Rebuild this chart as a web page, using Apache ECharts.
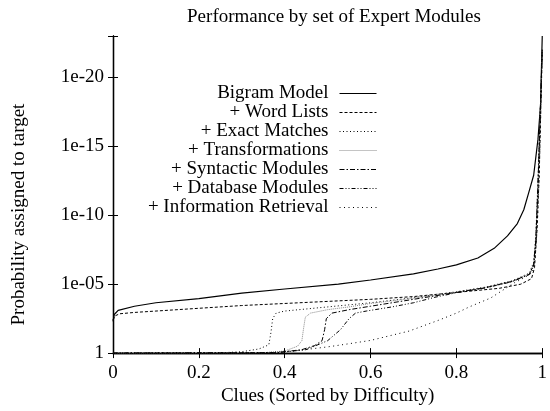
<!DOCTYPE html>
<html><head><meta charset="utf-8">
<script src="https://cdn.jsdelivr.net/npm/echarts@6/dist/echarts.min.js"></script>
<style>html,body{margin:0;padding:0;background:#fff}#c{width:550px;height:411px}</style>
</head><body><div id="c"></div><script>
const FONT = '"Liberation Serif", "Times New Roman", serif';
const titleText = 'Performance by set of Expert Modules';
const xName = 'Clues (Sorted by Difficulty)';
const yName = 'Probability assigned to target';
const xTicks = [0, 0.2, 0.4, 0.6, 0.8, 1];
const yTickLabels = { 0: '1', 5: '1e-05', 10: '1e-10', 15: '1e-15', 20: '1e-20' };
const seriesNames = ['Bigram Model', '+ Word Lists', '+ Exact Matches', '+ Transformations',
  '+ Syntactic Modules', '+ Database Modules', '+ Information Retrieval'];

// y = -log10(probability); x = fraction of clues
const bigram = [[0,2.3],[0.003,2.8],[0.012,3.1],[0.05,3.4],[0.1,3.65],[0.2,3.95],[0.25,4.15],[0.3,4.35],
  [0.4,4.65],[0.525,5.0],[0.6,5.3],[0.7,5.75],[0.757,6.1],[0.8,6.4],[0.85,6.9],[0.888,7.6],[0.919,8.5],
  [0.942,9.4],[0.957,10.4],[0.969,11.7],[0.98,12.9],[0.99,15.5],[0.996,18],[1.0,23]];
const wordLists = [[0,2.4],[0.005,2.7],[0.015,2.85],[0.05,2.95],[0.1,3.05],[0.2,3.25],[0.3,3.45],[0.4,3.6],
  [0.5,3.75],[0.6,3.9],[0.7,4.1],[0.8,4.4],[0.9,4.7],[0.95,5.0],[0.975,5.4],[0.982,6.2],[0.988,9],
  [0.993,13],[1.0,22]];
const exactMatches = [[0,0],[0.25,0.02],[0.3,0.1],[0.34,0.3],[0.363,0.6],[0.368,1.5],[0.372,2.5],[0.38,2.9],
  [0.4,3.05],[0.45,3.2],[0.5,3.35],[0.6,3.65],[0.7,4.02],[0.8,4.45],[0.87,4.8],[0.93,5.25],[0.97,5.8],
  [0.98,6.6],[0.985,8.5],[0.99,12.5],[1.0,22]];
const transformations = [[0,0],[0.35,0.03],[0.4,0.15],[0.43,0.5],[0.44,0.9],[0.444,1.8],[0.448,2.6],
  [0.46,2.9],[0.5,3.15],[0.55,3.35],[0.6,3.6],[0.7,3.98],[0.8,4.42],[0.87,4.78],[0.93,5.22],[0.97,5.75],
  [0.98,6.5],[0.985,8.3],[0.99,12.3],[1.0,22]];
const syntactic = [[0,0],[0.38,0.03],[0.44,0.25],[0.47,0.55],[0.487,0.9],[0.493,1.7],[0.497,2.5],[0.51,2.9],
  [0.55,3.15],[0.6,3.4],[0.7,3.9],[0.8,4.4],[0.87,4.76],[0.93,5.2],[0.97,5.72],[0.98,6.4],[0.985,8.2],
  [0.99,12.2],[1.0,22]];
const database = [[0,0],[0.38,0.02],[0.45,0.25],[0.5,0.9],[0.53,1.7],[0.55,2.5],[0.565,2.9],[0.59,3.05],
  [0.65,3.35],[0.7,3.65],[0.75,4.05],[0.8,4.38],[0.87,4.74],[0.93,5.18],[0.97,5.7],[0.98,6.3],[0.985,8],
  [0.99,12],[1.0,22]];
const infoRetrieval = [[0,0],[0.35,0.02],[0.42,0.15],[0.5,0.45],[0.55,0.68],[0.6,0.92],[0.69,1.6],[0.76,2.4],
  [0.8,2.9],[0.83,3.35],[0.88,4.0],[0.915,4.7],[0.935,5.1],[0.96,5.5],[0.977,5.85],[0.983,6.8],[0.988,9],
  [0.993,13],[1.0,22]];

const seriesData = [bigram, wordLists, exactMatches, transformations, syntactic, database, infoRetrieval];
const styles = [
  { color: '#000', type: 'solid', width: 1.2 },
  { color: '#000', type: [3, 2], width: 1 },
  { color: '#000', type: [1, 2.5], width: 1 },
  { color: '#888', type: [1, 1], width: 1 },
  { color: '#000', type: [5, 2, 1.5, 2], width: 1 },
  { color: '#000', type: [4, 2, 1, 2, 1, 2], width: 1 },
  { color: '#000', type: [1, 3.5], width: 1 }
];

const FS = 19;
const chart = echarts.init(document.getElementById('c'), null, { renderer: 'canvas' });
const axisCommon = { lineStyle: { color: '#000', width: 1.3 } };
chart.setOption({
  animation: false,
  backgroundColor: '#fff',
  title: {
    text: titleText, left: 329, top: 3, textAlign: 'center',
    textStyle: { fontFamily: FONT, fontSize: FS, fontWeight: 'normal', color: '#000' }
  },
  legend: {
    orient: 'vertical', align: 'right', right: 173, top: 84, padding: 0,
    itemWidth: 37, itemHeight: 14, itemGap: 0,
    itemStyle: { opacity: 0 },
    lineStyle: { width: 1 },
    data: seriesNames,
    textStyle: { fontFamily: FONT, fontSize: FS, color: '#000', padding: [0, 6, 0, 0] }
  },
  grid: { left: 113, right: 5, top: 36, bottom: 48, containLabel: false },
  xAxis: [{
    type: 'value', min: 0, max: 1, interval: 0.2,
    name: xName, nameLocation: 'middle', nameGap: 30,
    nameTextStyle: { fontFamily: FONT, fontSize: FS, color: '#000' },
    axisLine: axisCommon, splitLine: { show: false },
    axisTick: { inside: true, length: 5, lineStyle: { color: '#000' } },
    axisLabel: { fontFamily: FONT, fontSize: FS, color: '#000', margin: 10,
      formatter: v => xTicks.some(t => Math.abs(t - v) < 1e-9) ? String(+v.toFixed(1)) : '' }
  }, {
    type: 'value', position: 'top', min: 0, max: 1, interval: 0.2,
    axisLine: axisCommon, splitLine: { show: false },
    axisTick: { inside: true, length: 5, lineStyle: { color: '#000' } },
    axisLabel: { show: false }
  }],
  yAxis: [{
    type: 'value', min: 0, max: 23, interval: 5,
    name: yName, nameLocation: 'middle', nameGap: 84, nameRotate: 90,
    nameTextStyle: { fontFamily: FONT, fontSize: FS, color: '#000', padding: [0, 40, 0, 0] },
    axisLine: axisCommon, splitLine: { show: false },
    axisTick: { inside: true, length: 5, lineStyle: { color: '#000' } },
    axisLabel: { fontFamily: FONT, fontSize: FS, color: '#000', margin: 9,
      formatter: v => (yTickLabels[v] !== undefined ? yTickLabels[v] : '') }
  }, {
    type: 'value', position: 'right', min: 0, max: 23, interval: 5,
    axisLine: axisCommon, splitLine: { show: false },
    axisTick: { inside: true, length: 5, lineStyle: { color: '#000' } },
    axisLabel: { show: false }
  }],
  series: seriesNames.map((name, i) => ({
    name, type: 'line', data: seriesData[i], xAxisIndex: 0, yAxisIndex: 0,
    showSymbol: false, symbol: 'none', smooth: false,
    lineStyle: { color: styles[i].color, type: styles[i].type, width: styles[i].width },
    itemStyle: { color: styles[i].color }
  }))
});
</script></body></html>
